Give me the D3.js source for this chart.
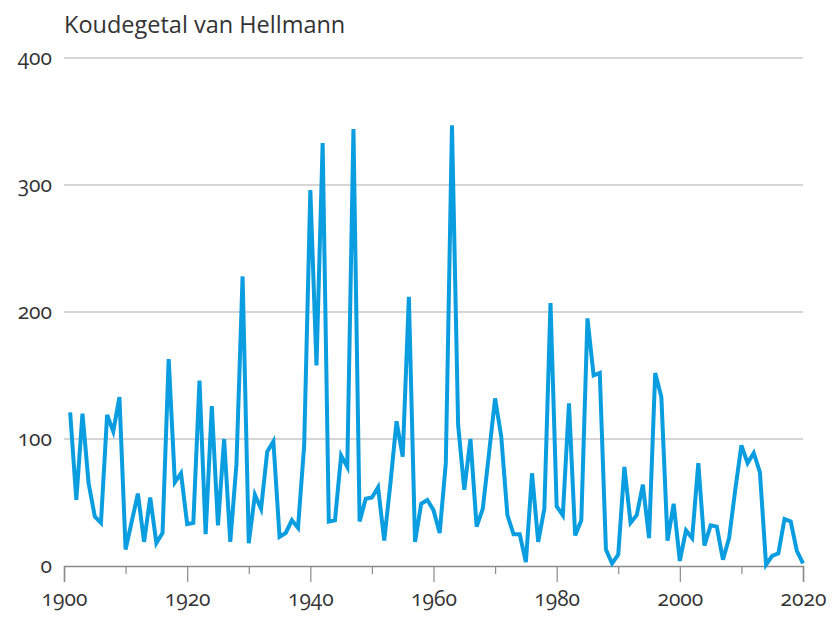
<!DOCTYPE html>
<html>
<head>
<meta charset="utf-8">
<script src="https://cdn.jsdelivr.net/npm/d3@7/dist/d3.min.js"></script>
<style>
  html, body { margin: 0; padding: 0; background: #fff; }
  svg { display: block; }
  text { font-family: "Open Sans", "Noto Sans", sans-serif; fill: #333; font-variant-numeric: oldstyle-nums; }
</style>
</head>
<body>
<svg id="chart" width="832" height="621"></svg>
<script>
const title = "Koudegetal van Hellmann";
const years = [1901,1902,1903,1904,1905,1906,1907,1908,1909,1910,
  1911,1912,1913,1914,1915,1916,1917,1918,1919,1920,
  1921,1922,1923,1924,1925,1926,1927,1928,1929,1930,
  1931,1932,1933,1934,1935,1936,1937,1938,1939,1940,
  1941,1942,1943,1944,1945,1946,1947,1948,1949,1950,
  1951,1952,1953,1954,1955,1956,1957,1958,1959,1960,
  1961,1962,1963,1964,1965,1966,1967,1968,1969,1970,
  1971,1972,1973,1974,1975,1976,1977,1978,1979,1980,
  1981,1982,1983,1984,1985,1986,1987,1988,1989,1990,
  1991,1992,1993,1994,1995,1996,1997,1998,1999,2000,
  2001,2002,2003,2004,2005,2006,2007,2008,2009,2010,
  2011,2012,2013,2014,2015,2016,2017,2018,2019,2020];
const values = [121,52,120,65,39,34,119,106,133,13,
  35,57,19,54,18,26,163,66,73,33,
  34,146,25,126,32,100,19,80,228,18,
  56,45,90,98,23,26,36,30,95,296,
  158,333,35,36,87,78,344,35,53,54,
  62,20,65,114,86,212,19,49,52,44,
  26,81,347,111,60,100,31,45,88,132,
  102,40,25,25,3,73,19,45,207,47,
  40,128,24,36,195,150,152,13,2,9,
  78,34,40,64,22,152,133,20,49,4,
  28,22,81,16,32,31,5,22,60,95,
  81,89,74,1,8,10,37,35,12,2];
const yTicks = [0, 100, 200, 300, 400];
const xLabelTicks = [1900, 1920, 1940, 1960, 1980, 2000, 2020];
const xMinorTicks = [1910, 1930, 1950, 1970, 1990, 2010];

const svg = d3.select("#chart");
const x = d3.scaleLinear().domain([1900, 2020]).range([64, 803]);
const y = d3.scaleLinear().domain([0, 400]).range([566, 58]);

// title
svg.append("text").attr("x", 64).attr("y", 33)
  .attr("font-size", 23.5).text(title);

// gridlines
svg.append("g").selectAll("line").data(yTicks.filter(d => d > 0)).join("line")
  .attr("x1", x(1900)).attr("x2", x(2020))
  .attr("y1", d => y(d)).attr("y2", d => y(d))
  .attr("stroke", "#d6d6d6").attr("stroke-width", 2);

// y labels
svg.append("g").selectAll("text").data(yTicks).join("text")
  .attr("x", 52).attr("y", d => y(d)).attr("dy", "0.35em")
  .attr("text-anchor", "end").attr("font-size", 21).text(d => d);

// x axis
const xAxisMajor = d3.axisBottom(x).tickValues(xLabelTicks).tickSize(16).tickFormat(d3.format("d"));
const gx = svg.append("g").attr("transform", `translate(0,${y(0)})`).call(xAxisMajor);
gx.select(".domain").attr("stroke", "#8a8a8a").attr("stroke-width", 1.5);
gx.selectAll(".tick line").attr("stroke", "#8a8a8a").attr("stroke-width", 1.2);
gx.selectAll(".tick text").attr("font-size", 21).attr("y", 25).attr("dy", "0.71em")
  .attr("fill", "#333").attr("font-family", "Open Sans, Noto Sans, sans-serif");

const xAxisMinor = d3.axisBottom(x).tickValues(xMinorTicks).tickSize(8).tickFormat("");
const gm = svg.append("g").attr("transform", `translate(0,${y(0)})`).call(xAxisMinor);
gm.select(".domain").remove();
gm.selectAll(".tick line").attr("stroke", "#8a8a8a").attr("stroke-width", 1.2);

// line
const line = d3.line().x((d, i) => x(years[i])).y(d => y(d));
svg.append("path").datum(values)
  .attr("d", line)
  .attr("fill", "none")
  .attr("stroke", "#0a9de0")
  .attr("stroke-width", 4)
  .attr("stroke-linejoin", "miter")
  .attr("stroke-miterlimit", 4);
</script>
</body>
</html>
